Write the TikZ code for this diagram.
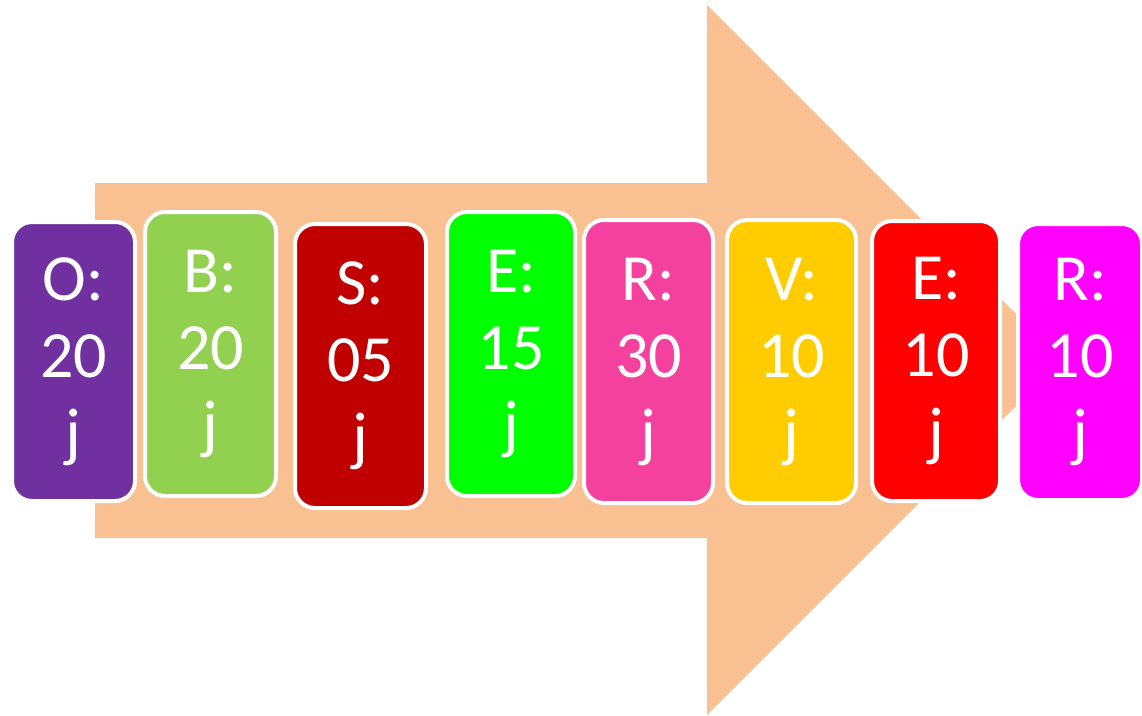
\documentclass[tikz,border=0pt]{standalone}
\usepackage{fontspec}
\setmainfont{Carlito}
\definecolor{arrowc}{HTML}{F9C191}
\definecolor{cO}{HTML}{7030A0}
\definecolor{cB}{HTML}{92D050}
\definecolor{cS}{HTML}{C00000}
\definecolor{cE}{HTML}{00FF00}
\definecolor{cR}{HTML}{F3419D}
\definecolor{cV}{HTML}{FFCC00}
\definecolor{cE2}{HTML}{FF0000}
\definecolor{cR2}{HTML}{FF00FF}
\begin{document}
\begin{tikzpicture}[x=1pt,y=-1pt,
  card/.style={draw=white, line width=4pt, rounded corners=20pt, text=white,
    align=center, inner sep=0pt,
    font=\fontsize{66}{77}\selectfont}]
\useasboundingbox (0,0) rectangle (1142,715);
\fill[arrowc] (95,183) -- (707,183) -- (707,5) -- (1062,360) -- (707,715) -- (707,538) -- (95,538) -- cycle;
\node[card, fill=cO, minimum width=123pt, minimum height=279pt] (o) at (73.5,361.5) {O:\\20\\j};
\node[card, fill=cB, minimum width=131pt, minimum height=284pt] (b) at (210.5,354) {B:\\20\\j};
\node[card, fill=cS, minimum width=131pt, minimum height=284pt] (s) at (360.5,366) {S:\\05\\j};
\node[card, fill=cE, minimum width=128pt, minimum height=284pt] (e) at (511,354) {E:\\15\\j};
\node[card, fill=cR, minimum width=129pt, minimum height=283pt] (r) at (648.5,361.5) {R:\\30\\j};
\node[card, fill=cV, minimum width=129pt, minimum height=283pt] (v) at (791.5,361.5) {V:\\10\\j};
\node[card, fill=cE2, minimum width=128pt, minimum height=280pt] (e2) at (936,361) {E:\\10\\j};
\node[card, fill=cR2, minimum width=124pt, minimum height=276pt] (r2) at (1080,362) {R:\\10\\j};
\end{tikzpicture}
\end{document}
